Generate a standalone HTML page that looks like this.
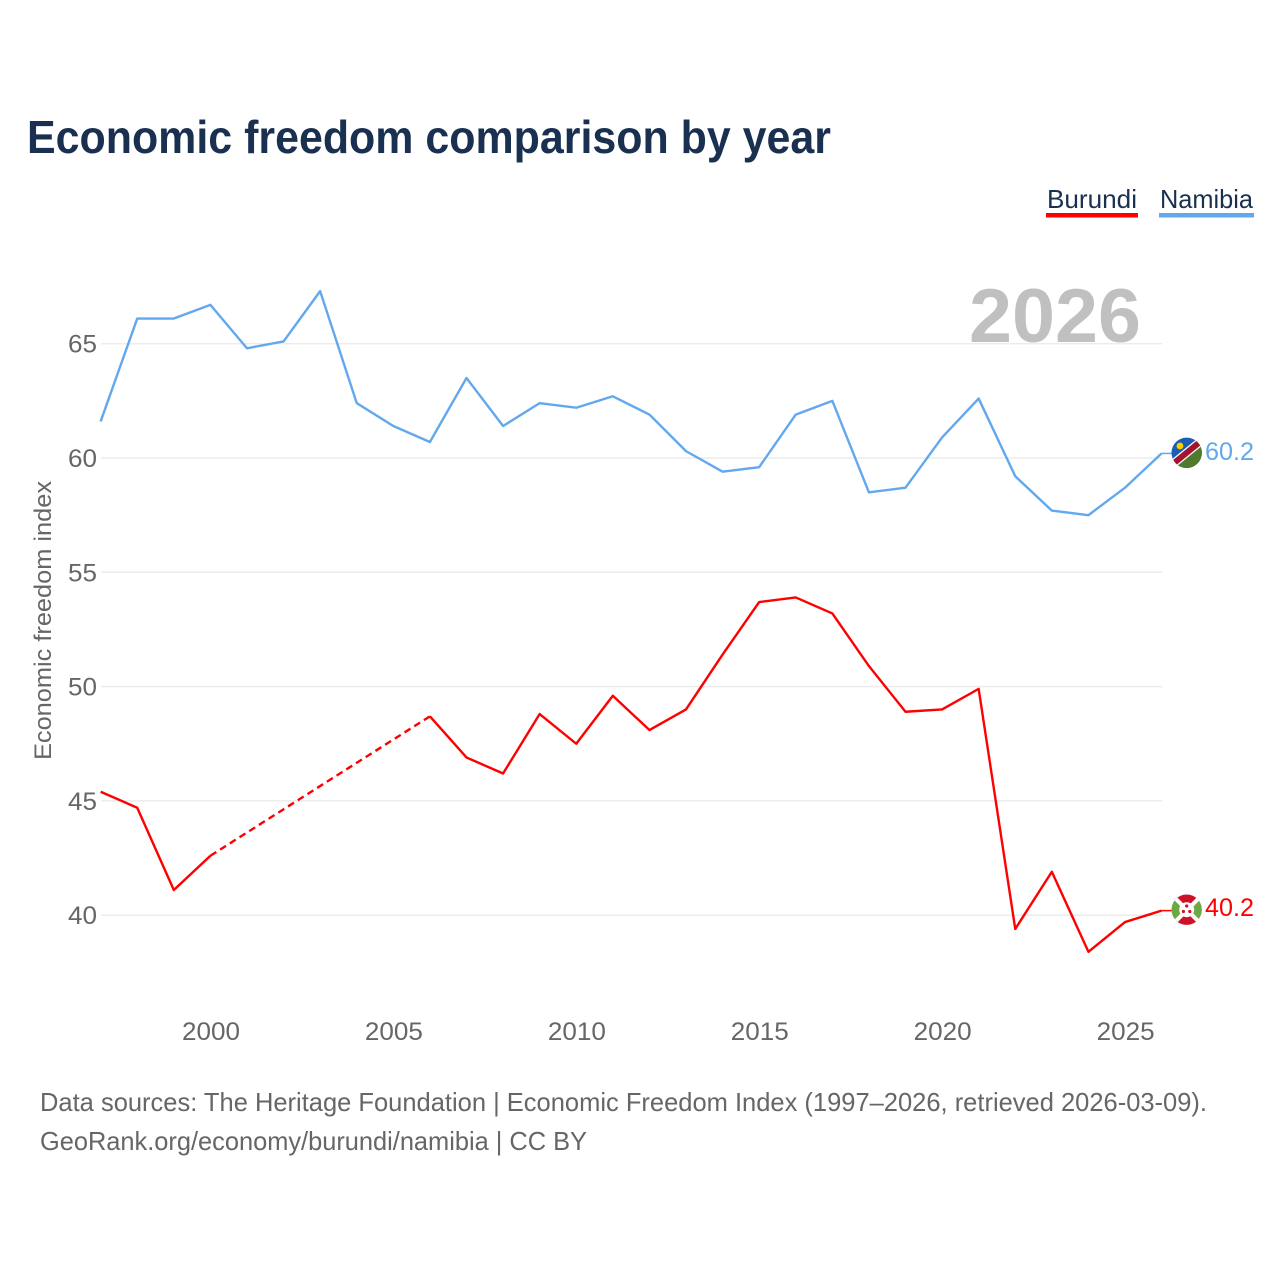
<!DOCTYPE html>
<html lang="en">
<head>
<meta charset="utf-8">
<title>Economic freedom comparison by year</title>
<style>
html,body{margin:0;padding:0;background:#fff;width:1280px;height:1280px;overflow:hidden}
svg{display:block}
text{font-family:"Liberation Sans",sans-serif}
</style>
</head>
<body>
<svg id="chart" width="1280" height="1280" viewBox="0 0 1280 1280" xmlns="http://www.w3.org/2000/svg">
  <defs>
    <clipPath id="flag-clip-na"><circle cx="1186.7" cy="452.8" r="15.2"/></clipPath>
    <clipPath id="flag-clip-bi"><circle cx="1186.7" cy="909.7" r="15.2"/></clipPath>
  </defs>
  <rect width="1280" height="1280" fill="#ffffff"/>
  <text x="27" y="153" font-size="46" font-weight="700" fill="#1a3050" textLength="804" lengthAdjust="spacingAndGlyphs">Economic freedom comparison by year</text>
  <g id="grid"></g>
  <text x="969" y="342" font-size="76" font-weight="700" fill="#c0c0c0" textLength="172" lengthAdjust="spacingAndGlyphs">2026</text>
  <g id="yticks"></g>
  <g id="xticks"></g>
  <text transform="translate(51,760) rotate(-90)" font-size="24" fill="#666666" textLength="279" lengthAdjust="spacingAndGlyphs">Economic freedom index</text>
  <g id="series"></g>

  <g>
    <text x="1047" y="208" font-size="26" fill="#1a3050" textLength="90" lengthAdjust="spacingAndGlyphs">Burundi</text>
    <rect x="1046" y="213" width="92" height="4.5" fill="#ff0000"/>
  </g>
  <g>
    <text x="1160" y="208" font-size="26" fill="#1a3050" textLength="93" lengthAdjust="spacingAndGlyphs">Namibia</text>
    <rect x="1159" y="213" width="95" height="4.5" fill="#62a8ee"/>
  </g>

  <g clip-path="url(#flag-clip-na)">
    <rect x="1170" y="436" width="34" height="34" fill="#1a5fb4"/>
    <polygon points="1166,470 1206,470 1206,436" fill="#4f7a2c"/>
    <line x1="1168" y1="468" x2="1206" y2="437" stroke="#ffffff" stroke-width="8.5"/>
    <line x1="1168" y1="468" x2="1206" y2="437" stroke="#a3142e" stroke-width="6"/>
    <circle cx="1180" cy="446" r="3.4" fill="#ffce00"/>
  </g>
  <g clip-path="url(#flag-clip-bi)">
    <rect x="1170" y="893" width="34" height="34" fill="#ffffff"/>
    <polygon points="1170,893 1204,893 1186.7,909.7" fill="#ce1126"/>
    <polygon points="1170,927 1204,927 1186.7,909.7" fill="#ce1126"/>
    <polygon points="1170,893 1170,927 1186.7,909.7" fill="#6fa843"/>
    <polygon points="1204,893 1204,927 1186.7,909.7" fill="#6fa843"/>
    <line x1="1170" y1="893" x2="1204" y2="927" stroke="#ffffff" stroke-width="4"/>
    <line x1="1204" y1="893" x2="1170" y2="927" stroke="#ffffff" stroke-width="4"/>
    <circle cx="1186.7" cy="909.7" r="7.5" fill="#ffffff"/>
    <circle cx="1186.7" cy="906" r="1.6" fill="#ce1126"/>
    <circle cx="1183.4" cy="911.5" r="1.6" fill="#ce1126"/>
    <circle cx="1189.8" cy="911.5" r="1.6" fill="#ce1126"/>
  </g>

  <text id="value-namibia" x="1205" y="460" font-size="25" fill="#62a8ee" textLength="49" lengthAdjust="spacingAndGlyphs"></text>
  <text id="value-burundi" x="1205" y="916" font-size="25" fill="#ff0000" textLength="49" lengthAdjust="spacingAndGlyphs"></text>

  <text x="40" y="1111" font-size="26" fill="#666666" textLength="1167" lengthAdjust="spacingAndGlyphs">Data sources: The Heritage Foundation | Economic Freedom Index (1997–2026, retrieved 2026-03-09).</text>
  <text x="40" y="1150" font-size="26" fill="#666666" textLength="547" lengthAdjust="spacingAndGlyphs">GeoRank.org/economy/burundi/namibia | CC BY</text>
</svg>
<script>
const years = [1997,1998,1999,2000,2001,2002,2003,2004,2005,2006,2007,2008,2009,2010,2011,2012,2013,2014,2015,2016,2017,2018,2019,2020,2021,2022,2023,2024,2025,2026];
const namibia = [61.6,66.1,66.1,66.7,64.8,65.1,67.3,62.4,61.4,60.7,63.5,61.4,62.4,62.2,62.7,61.9,60.3,59.4,59.6,61.9,62.5,58.5,58.7,60.9,62.6,59.2,57.7,57.5,58.7,60.2];
const burundi = [45.4,44.7,41.1,42.6,null,null,null,null,null,48.7,46.9,46.2,48.8,47.5,49.6,48.1,49.0,51.4,53.7,53.9,53.2,50.9,48.9,49.0,49.9,39.4,41.9,38.4,39.7,40.2];
const yTicks = [40,45,50,55,60,65];
const xTicks = [2000,2005,2010,2015,2020,2025];

const NS = 'http://www.w3.org/2000/svg';
function xScale(year) { return 210.4 + (year - 2000) * (1125 - 210.4) / 25; }
function yScale(v) { return 915.2 - (v - 40) * (915.2 - 343.7) / 25; }
function make(tag, attrs, parent) {
  const el = document.createElementNS(NS, tag);
  for (const k in attrs) el.setAttribute(k, attrs[k]);
  parent.appendChild(el);
  return el;
}

const gridG = document.getElementById('grid');
const yG = document.getElementById('yticks');
const xG = document.getElementById('xticks');
const seriesG = document.getElementById('series');

yTicks.forEach(function (t) {
  const line = make('line', {x1: 101, x2: 1162, y1: yScale(t), y2: yScale(t), stroke: '#ececec', 'stroke-width': 1.5}, gridG);
  
  
  const label = make('text', {x: 97, y: yScale(t) + 9, 'font-size': 25, fill: '#666666', 'text-anchor': 'end', textLength: 29, lengthAdjust: 'spacingAndGlyphs'}, yG);
  label.textContent = String(t);
  
  
});

xTicks.forEach(function (t) {
  const label = make('text', {x: xScale(t) + 0.6, y: 1040, 'font-size': 25, fill: '#666666', 'text-anchor': 'middle', textLength: 58, lengthAdjust: 'spacingAndGlyphs'}, xG);
  label.textContent = String(t);
  
  
});

function drawSeries(values, color, name) {
  let solid = '';
  let dashed = '';
  let last = null;
  let gap = false;
  values.forEach(function (v, i) {
    if (v === null) { gap = true; return; }
    const p = xScale(years[i]).toFixed(2) + ' ' + yScale(v).toFixed(2);
    if (gap && last) {
      dashed += 'M' + last + ' L' + p + ' ';
      solid += 'M' + p + ' ';
    } else {
      solid += (last ? 'L' : 'M') + p + ' ';
    }
    gap = false;
    last = p;
  });
  const path = make('path', {d: solid, fill: 'none', stroke: color, 'stroke-width': 2.4, 'stroke-linejoin': 'round'}, seriesG);
  
  
  if (dashed) {
    const dash = make('path', {d: dashed, fill: 'none', stroke: color, 'stroke-width': 2.4, 'stroke-dasharray': '7 4.5'}, seriesG);
    
    
  }
  const endValue = values[values.length - 1];
  const endY = yScale(endValue);
  const connector = make('line', {x1: xScale(years[years.length - 1]), x2: 1174, y1: endY, y2: endY, stroke: color, 'stroke-width': 1.5}, seriesG);
  
  
  document.getElementById('value-' + name).textContent = endValue.toFixed(1);
}

drawSeries(namibia, '#62a8ee', 'namibia');
drawSeries(burundi, '#ff0000', 'burundi');
</script>
</body>
</html>
